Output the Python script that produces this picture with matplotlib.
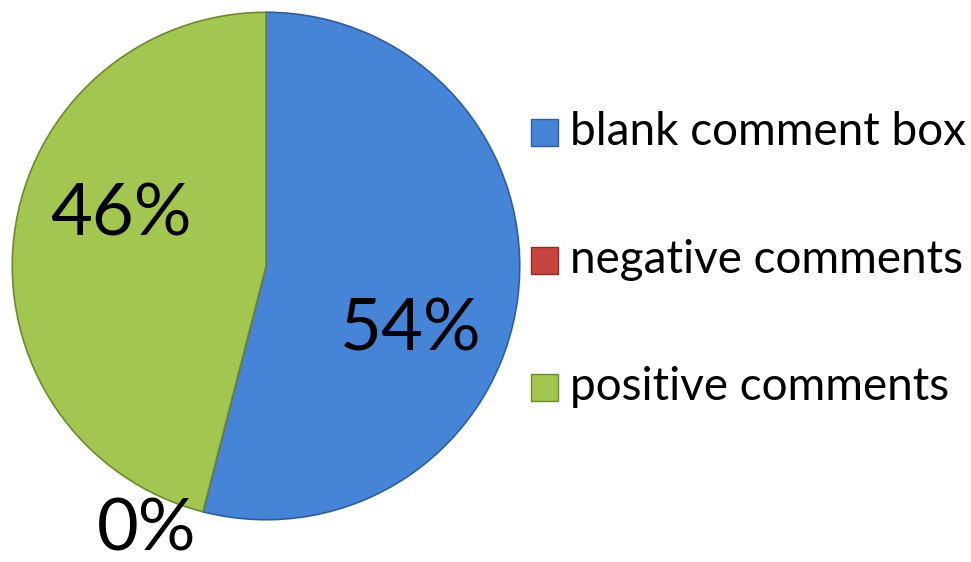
import matplotlib
matplotlib.use("Agg")
import matplotlib.pyplot as plt
from matplotlib.patches import Rectangle

categories = ["blank comment box", "negative comments", "positive comments"]
values = [54, 0, 46]
pct_labels = ["54%", "0%", "46%"]
colors = ["#4584D6", "#C8453F", "#A2C650"]
edge_colors = ["#2F5E9E", "#8E2A26", "#6E8A30"]

plt.rcParams['font.family'] = ['Lato', 'DejaVu Sans']

W, H = 971, 562
fig = plt.figure(figsize=(W / 100, H / 100), dpi=100)
cx, cy, r = 266, 266, 255
ax = fig.add_axes([(cx - r) / W, (H - cy - r) / H, 2 * r / W, 2 * r / H])
wedges, _ = ax.pie(values, colors=colors, startangle=90, counterclock=False,
                   radius=1.0, wedgeprops=dict(linewidth=1.2))
for w, ec in zip(wedges, edge_colors):
    w.set_edgecolor(ec)
ax.set_xlim(-1.005, 1.005)
ax.set_ylim(-1.005, 1.005)
ax.set_aspect('equal')
ax.axis('off')

# percentage labels (positions in axes data units)
label_pos = {"54%": ((411 - cx) / r, (cy - 330) / r),
             "46%": ((120 - cx) / r, (cy - 215) / r),
             "0%": ((146 - cx) / r, (cy - 531) / r)}
for lab in pct_labels:
    x, y = label_pos[lab]
    ax.text(x, y, lab, ha='center', va='center', fontsize=52, color='black',
            clip_on=False)

# legend
row_y = [132, 260, 387]
for cat, col, ec, yy in zip(categories, colors, edge_colors, row_y):
    s = 27
    fig.patches.append(Rectangle(((531) / W, (H - yy - s / 2) / H), s / W, s / H,
                                 transform=fig.transFigure, facecolor=col,
                                 edgecolor=ec, linewidth=1))
    fig.text(570 / W, (H - yy) / H, cat, ha='left', va='center', fontsize=33,
             color='black')

fig.savefig("out.png", dpi=100, facecolor='white')
